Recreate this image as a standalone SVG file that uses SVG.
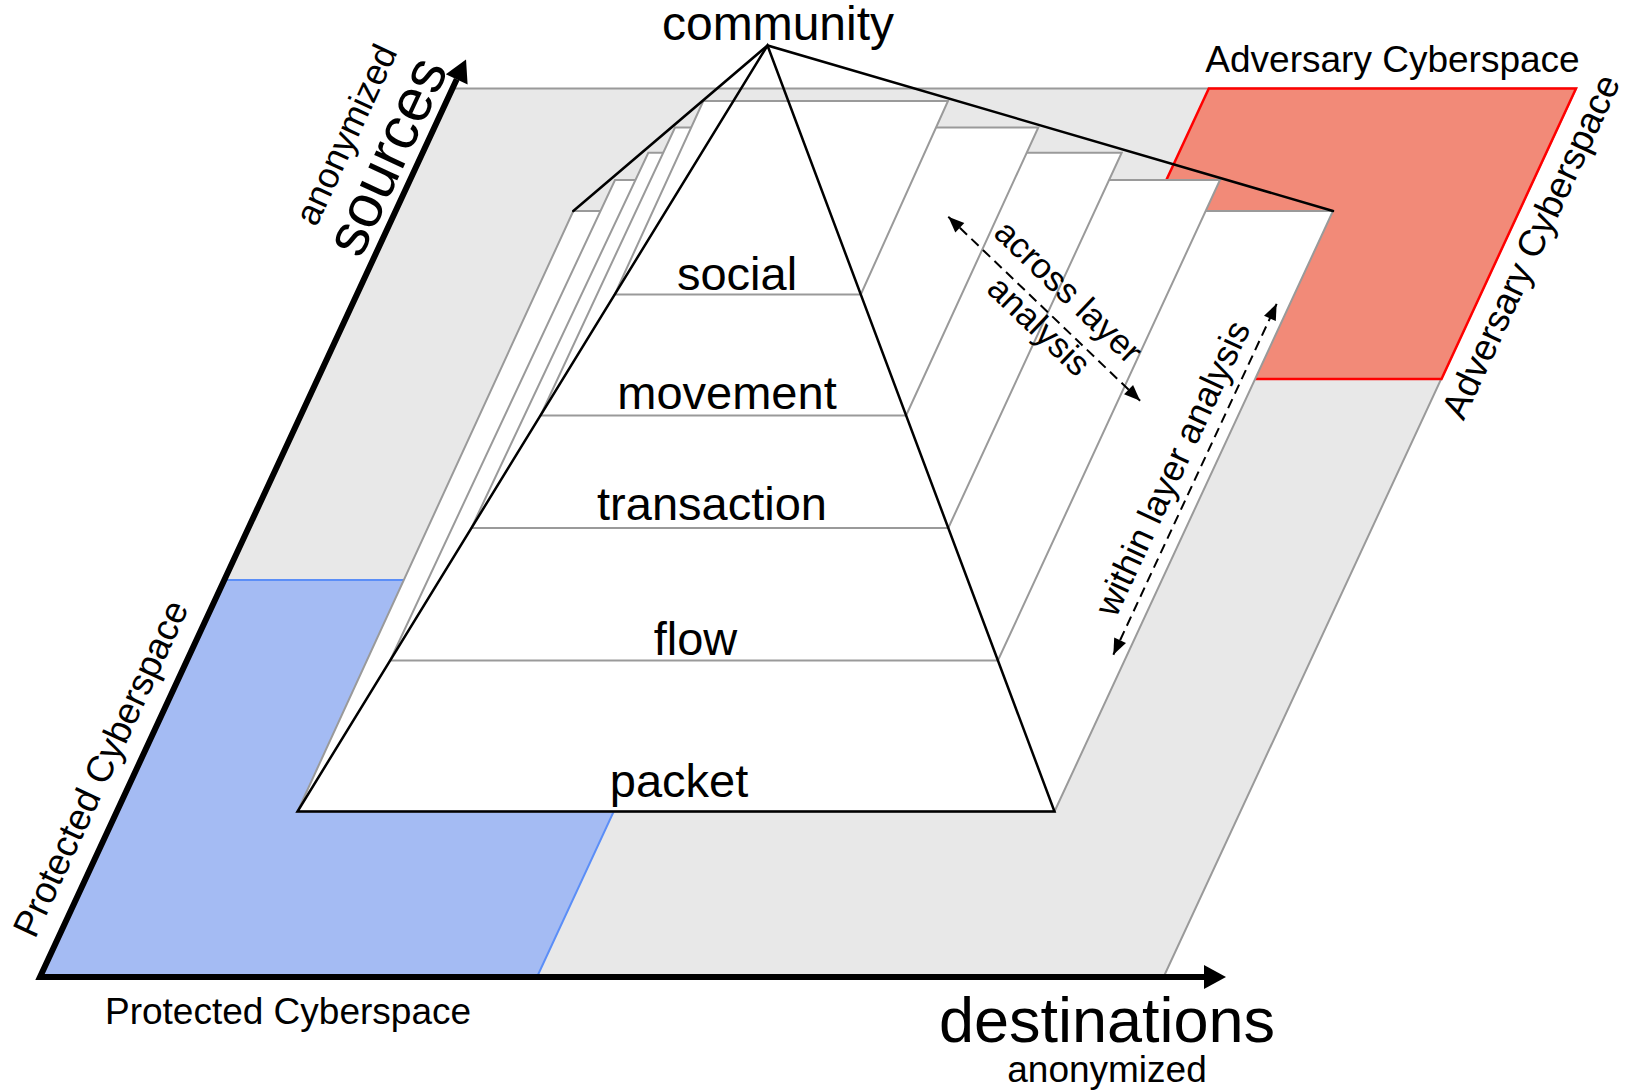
<svg xmlns="http://www.w3.org/2000/svg" width="1633" height="1091" viewBox="0 0 1633 1091">
  <style>
    text { font-family: "Liberation Sans", Arial, sans-serif; fill: #000; }
    .plane { fill: #e8e8e8; stroke: #9a9a9a; stroke-width: 2; stroke-linejoin: miter; }
    .protected { fill: #a4bbf3; stroke: #5b8ef7; stroke-width: 2; }
    .adversary { fill: #f28a78; stroke: #ff0000; stroke-width: 2.5; }
    .card { fill: #ffffff; stroke: #9a9a9a; stroke-width: 2; stroke-linejoin: miter; }
    .layer-label { font-size: 47px; text-anchor: middle; }
    .edge { fill: none; stroke: #000; stroke-width: 2.5; stroke-linecap: round; }
    .axis { fill: none; stroke: #000; stroke-width: 6; stroke-linejoin: miter; }
    .dash { fill: none; stroke: #000; stroke-width: 2; stroke-dasharray: 10 6; }
    .side-label { font-size: 37px; text-anchor: middle; }
  </style>
  <defs>
    <marker id="axis-head" markerUnits="userSpaceOnUse" markerWidth="30" markerHeight="30" orient="auto-start-reverse" overflow="visible">
      <path d="M0,-12 L22,0 L0,12 Z" fill="#000"/>
    </marker>
    <marker id="dash-head" markerUnits="userSpaceOnUse" markerWidth="20" markerHeight="20" orient="auto-start-reverse" overflow="visible">
      <path d="M0,0 L-16,-6.5 L-16,6.5 Z" fill="#000"/>
    </marker>
  </defs>

  <!-- ground plane spanned by sources x destinations -->
  <g id="plane">
    <polygon class="plane" points="452,88.5 1576,88.5 1163.6,977 40,977"/>
  </g>

  <!-- protected and adversary corners of the plane -->
  <g id="protected-cyberspace">
    <polygon class="protected" points="40,977 224,580 721,580 537,977"/>
  </g>
  <g id="adversary-cyberspace">
    <polygon class="adversary" points="1208.8,88.5 1576,88.5 1441.5,379 1074,379"/>
  </g>

  <!-- layer cards, back (packet) to front (social) -->
  <g id="layer-packet">
    <polygon class="card" points="573.3,211 1333,211 1054.5,811.5 297.5,811.5"/>
    <text class="layer-label" x="679" y="796.5">packet</text>
  </g>
  <g id="layer-flow">
    <polygon class="card" points="615,180 1220,180 997.9,660.5 390.1,660.5"/>
    <text class="layer-label" x="695.5" y="654.5">flow</text>
  </g>
  <g id="layer-transaction">
    <polygon class="card" points="648.3,152.7 1121.7,152.7 948.3,528 471.4,528"/>
    <text class="layer-label" x="712" y="520">transaction</text>
  </g>
  <g id="layer-movement">
    <polygon class="card" points="675,127.5 1038.3,127.5 906.1,415.5 540.5,415.5"/>
    <text class="layer-label" x="727" y="408.5">movement</text>
  </g>
  <g id="layer-social">
    <polygon class="card" points="703.3,101 948,101 860.8,294.5 614.7,294.5"/>
    <text class="layer-label" x="737" y="290">social</text>
  </g>

  <!-- community apex and pyramid outline -->
  <g id="community">
    <text x="778" y="40" font-size="48" text-anchor="middle">community</text>
    <polyline class="edge" points="573.3,211 767.5,45.5 1333,211"/>
    <polygon class="edge" points="767.5,45.5 1054.5,811.5 297.5,811.5"/>
  </g>

  <!-- analysis connectors -->
  <g id="connectors">
    <g transform="translate(1044.2,308.7) rotate(43.8)">
      <line class="dash" x1="-132.9" y1="0" x2="132.9" y2="0" marker-start="url(#dash-head)" marker-end="url(#dash-head)"/>
      <text x="5.7" y="-17.3" font-size="35" text-anchor="middle">across layer</text>
      <text x="8.2" y="27.8" font-size="35" text-anchor="middle">analysis</text>
    </g>
    <g transform="translate(1195,479.3) rotate(-65.04)">
      <line class="dash" x1="-193.5" y1="0" x2="193.5" y2="0" marker-start="url(#dash-head)" marker-end="url(#dash-head)"/>
      <text x="0.5" y="-13" font-size="36" text-anchor="middle">within layer analysis</text>
    </g>
  </g>

  <!-- axes -->
  <g id="axes">
    <path class="axis" d="M456.74,79.36 L40,977 L1204,977" marker-start="url(#axis-head)" marker-end="url(#axis-head)"/>
    <text transform="translate(390.5,158) rotate(-65.1)" y="15.6" font-size="60" text-anchor="middle">sources</text>
    <text transform="translate(349,136) rotate(-65.1)" y="9" font-size="36" text-anchor="middle">anonymized</text>
    <text x="1107" y="1042" font-size="63" text-anchor="middle">destinations</text>
    <text x="1107" y="1082" font-size="37" text-anchor="middle">anonymized</text>
  </g>

  <!-- region captions -->
  <g id="region-labels">
    <text class="side-label" x="288" y="1023.5">Protected Cyberspace</text>
    <text class="side-label" transform="translate(104,770) rotate(-65.1)" y="9" font-size="36">Protected Cyberspace</text>
    <text class="side-label" x="1392.5" y="72">Adversary Cyberspace</text>
    <text class="side-label" transform="translate(1534,248) rotate(-65.1)" y="9" font-size="36">Adversary Cyberspace</text>
  </g>
</svg>
